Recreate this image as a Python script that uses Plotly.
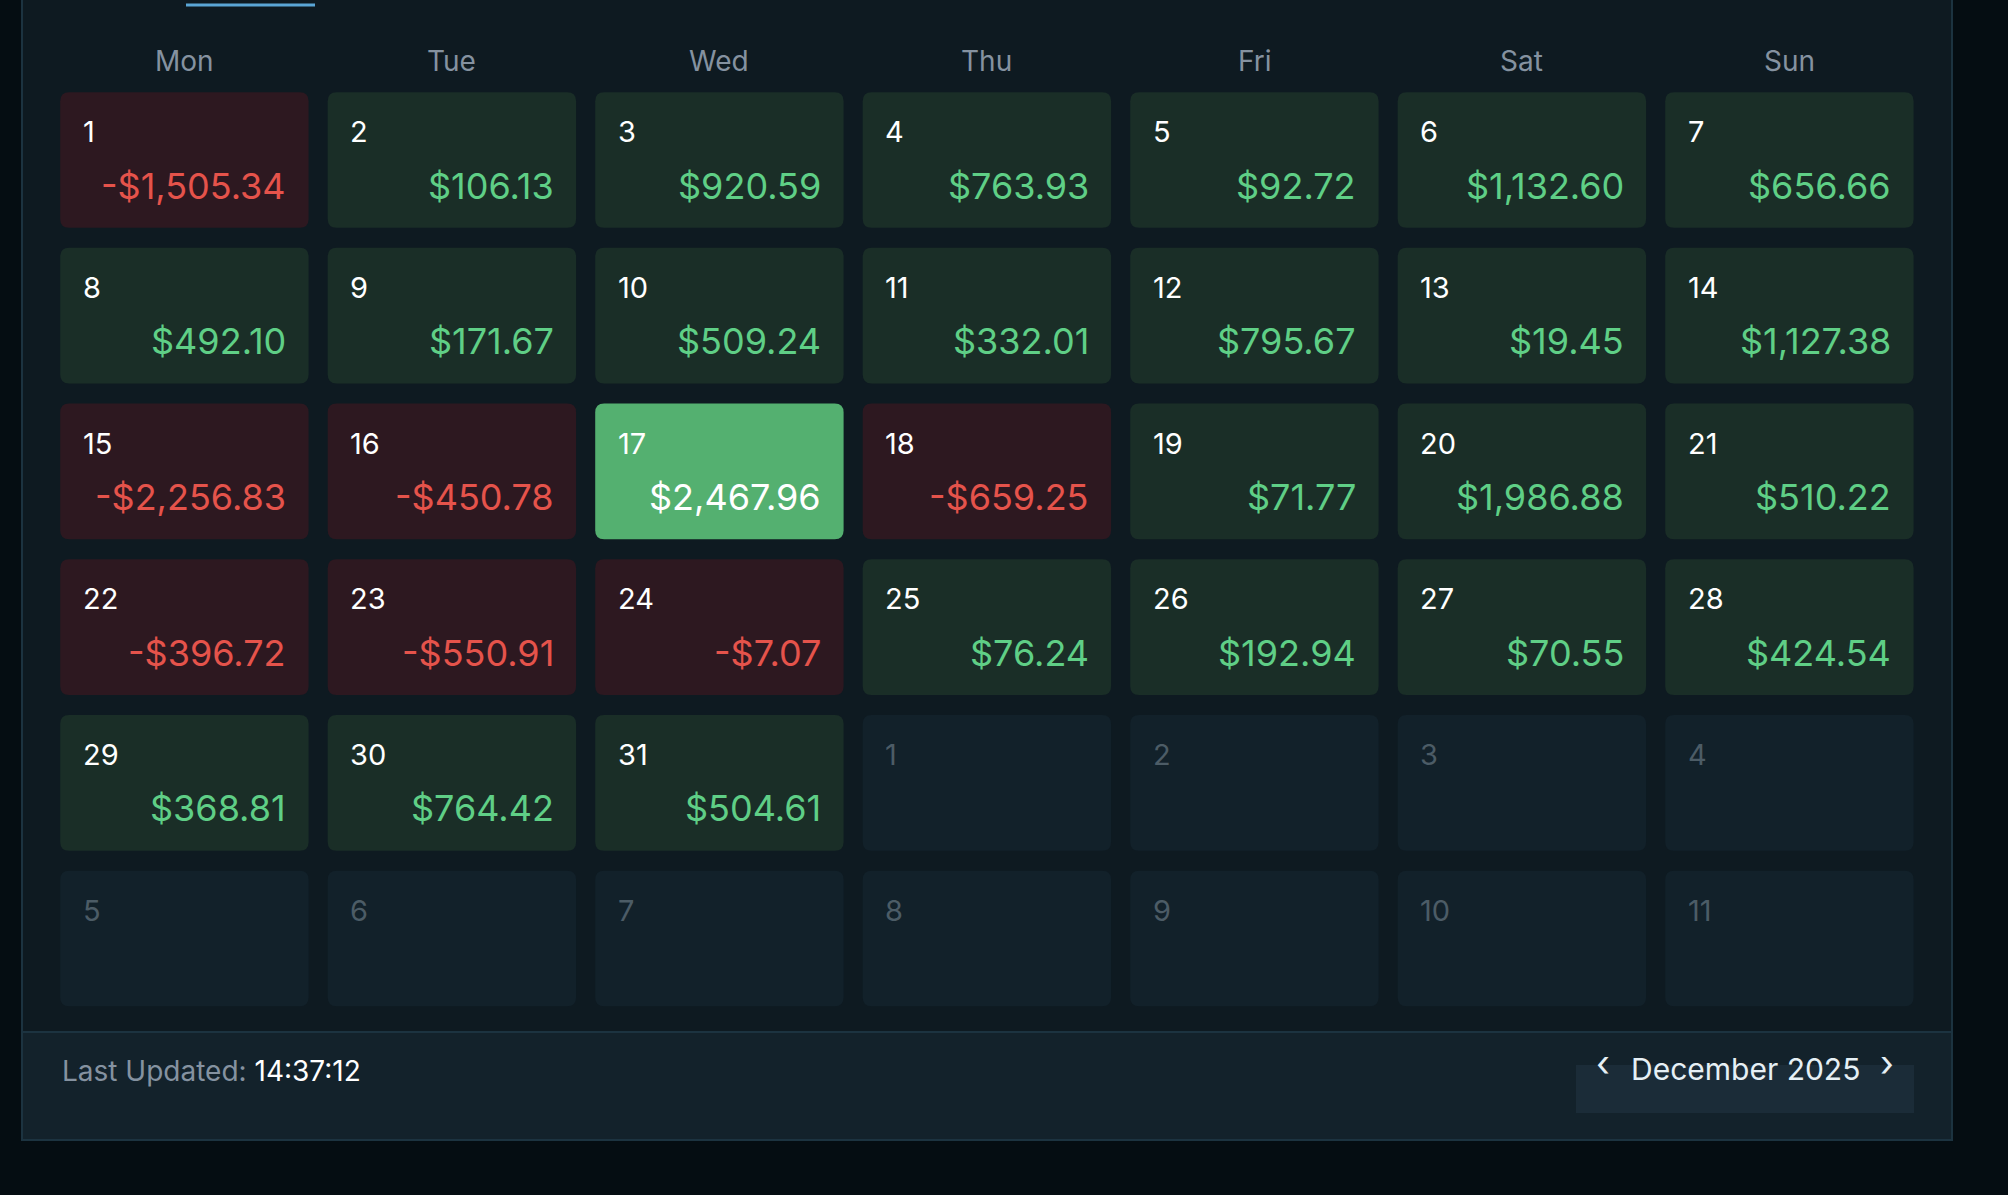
import plotly.graph_objects as go

weekdays = ["Mon", "Tue", "Wed", "Thu", "Fri", "Sat", "Sun"]
pnl = [-1505.34, 106.13, 920.59, 763.93, 92.72, 1132.60, 656.66,
       492.10, 171.67, 509.24, 332.01, 795.67, 19.45, 1127.38,
       -2256.83, -450.78, 2467.96, -659.25, 71.77, 1986.88, 510.22,
       -396.72, -550.91, -7.07, 76.24, 192.94, 70.55, 424.54,
       368.81, 764.42, 504.61]
next_month_days = [1, 2, 3, 4, 5, 6, 7, 8, 9, 10, 11]
highlight_day = 17
month_label = "December 2025"
last_updated = "14:37:12"

W, H = 2008, 1195
col_px, row_px = 267.5, 155.7
x0_px, y0_px = 184.4, 160.0
cell_w, cell_h = 248.4 / col_px, 135.7 / row_px
font = "Inter"


def money(v):
    s = f"${abs(v):,.2f}"
    return "-" + s if v < 0 else s


def rounded(x0, y0, x1, y1, rx, ry):
    return (f"M{x0+rx},{y0} L{x1-rx},{y0} Q{x1},{y0} {x1},{y0+ry} "
            f"L{x1},{y1-ry} Q{x1},{y1} {x1-rx},{y1} L{x0+rx},{y1} "
            f"Q{x0},{y1} {x0},{y1-ry} L{x0},{y0+ry} Q{x0},{y0} {x0+rx},{y0} Z")


shapes = []
annotations = []

# panels
shapes.append(dict(type="rect", xref="paper", yref="paper", x0=22 / W, x1=1952 / W,
                   y0=1 - 1140 / H, y1=1.01, fillcolor="#13222b",
                   line=dict(color="#1c3340", width=2), layer="below"))
shapes.append(dict(type="rect", xref="paper", yref="paper", x0=22 / W, x1=1952 / W,
                   y0=1 - 1032 / H, y1=1.01, fillcolor="#0e1a21",
                   line=dict(color="#1c3340", width=2), layer="below"))
shapes.append(dict(type="line", xref="paper", yref="paper", x0=186 / W, x1=315 / W,
                   y0=1 - 5 / H, y1=1 - 5 / H, line=dict(color="#5aa6d6", width=3)))
shapes.append(dict(type="rect", xref="paper", yref="paper", x0=1576 / W, x1=1914 / W,
                   y0=1 - 1113 / H, y1=1 - 1065 / H, fillcolor="#1b2c38", line_width=0))

for i, d in enumerate(weekdays):
    annotations.append(dict(x=i, y=-0.633, text=d, showarrow=False,
                            font=dict(size=28, color="#8592a0", family=font)))

cells = [(i + 1, v, True) for i, v in enumerate(pnl)] + [(d, None, False) for d in next_month_days]
rx, ry = 9 / col_px, 9 / row_px
for k, (day, val, cur) in enumerate(cells):
    c, r = k % 7, k // 7
    if not cur:
        fill, num_col = "#12212a", "#4c5c66"
    elif day == highlight_day:
        fill, num_col = "#54b070", "#ffffff"
    elif val < 0:
        fill, num_col = "#2d1820", "#ffffff"
    else:
        fill, num_col = "#1a2e27", "#ffffff"
    shapes.append(dict(type="path", xref="x", yref="y", fillcolor=fill, line_width=0, layer="below",
                       path=rounded(c - cell_w / 2, r - cell_h / 2, c + cell_w / 2, r + cell_h / 2, rx, ry)))
    annotations.append(dict(x=c - 0.388, y=r - 0.181, text=str(day), showarrow=False,
                            xanchor="left", font=dict(size=29, color=num_col, family=font)))
    if cur:
        if day == highlight_day:
            tc = "#ffffff"
        else:
            tc = "#e5534b" if val < 0 else "#5fcf86"
        annotations.append(dict(x=c + 0.388, y=r + 0.164, text=money(val), showarrow=False,
                                xanchor="right", font=dict(size=36, color=tc, family=font)))

annotations.append(dict(xref="paper", yref="paper", x=60 / W, y=1 - 1090 / H, xanchor="left",
                        showarrow=False,
                        text="<span style='color:#8592a0'>Last Updated:</span> " + last_updated,
                        font=dict(size=28, color="#ffffff", family=font)))
annotations.append(dict(xref="paper", yref="paper", x=1745 / W, y=1 - 1089 / H, showarrow=False,
                        xanchor="center", text=month_label,
                        font=dict(size=30, color="#e6f0f5", family=font)))
annotations.append(dict(xref="paper", yref="paper", x=1603 / W, y=1 - 1087 / H, showarrow=False,
                        xanchor="center", text="‹", font=dict(size=36, color="#e6f0f5", family=font)))
annotations.append(dict(xref="paper", yref="paper", x=1887 / W, y=1 - 1087 / H, showarrow=False,
                        xanchor="center", text="›", font=dict(size=36, color="#e6f0f5", family=font)))

fig = go.Figure(go.Scatter(x=[0, 6], y=[0, 5], mode="markers", marker_opacity=0, hoverinfo="skip"))
fig.update_layout(
    width=W, height=H, margin=dict(l=0, r=0, t=0, b=0),
    paper_bgcolor="#050d12", plot_bgcolor="rgba(0,0,0,0)",
    shapes=shapes, annotations=annotations, showlegend=False,
    xaxis=dict(range=[-x0_px / col_px, (W - x0_px) / col_px], visible=False, fixedrange=True),
    yaxis=dict(range=[(H - y0_px) / row_px, -y0_px / row_px], visible=False, fixedrange=True),
)
fig.write_html("out.html", config={"displayModeBar": False})

# drop the default page margin so the figure sits at the window corner
with open("out.html", encoding="utf-8") as f:
    page = f.read()
page = page.replace("<head>", "<head><style>body{margin:0;background:#050d12;overflow:hidden}</style>", 1)
with open("out.html", "w", encoding="utf-8") as f:
    f.write(page)
